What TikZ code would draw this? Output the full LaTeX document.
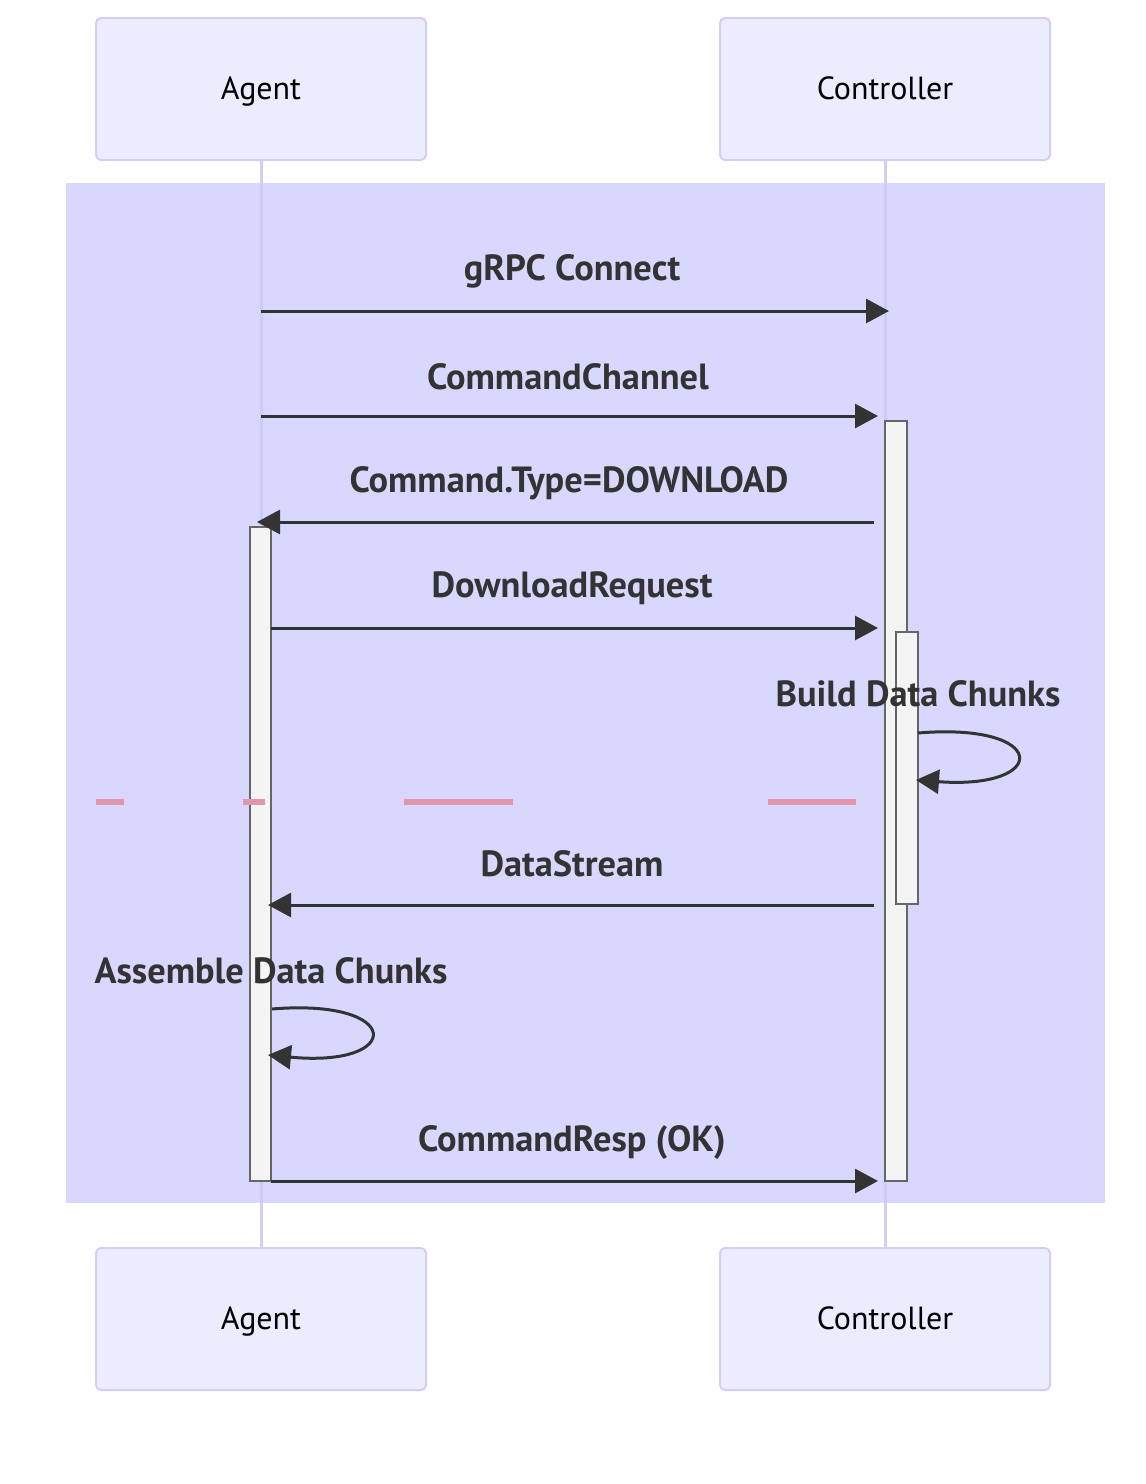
\documentclass[tikz,border=0pt]{standalone}
\usepackage{fontspec}
\setmainfont{PT Sans}
\usetikzlibrary{arrows.meta}

\definecolor{actorfill}{RGB}{236,236,255}
\definecolor{actorline}{RGB}{215,205,242}
\definecolor{loopfill}{RGB}{200,200,255}
\definecolor{msgcol}{RGB}{51,51,51}
\definecolor{actfill}{RGB}{244,244,244}
\definecolor{actline}{RGB}{102,102,102}
\definecolor{sepcol}{RGB}{226,150,172}

\begin{document}
\begin{tikzpicture}[
    x=0.5pt, y=-0.5pt,
    actor/.style={draw=actorline, fill=actorfill, line width=1pt, rounded corners=2.5pt,
      minimum width=165pt, minimum height=71pt, text=black,
      text height=11.5pt, text depth=1.5pt,
      font=\fontsize{16}{19}\selectfont},
    life/.style={actorline, line width=1.5pt},
    act/.style={draw=actline, fill=actfill, line width=1pt},
    msg/.style={msgcol, line width=1.5pt, -{Triangle[length=11.5pt,width=12pt]}},
    lab/.style={font=\bfseries\fontsize{18.2}{21}\selectfont, text=msgcol},
    sep/.style={sepcol, line width=2.8pt},
  ]
  \useasboundingbox (0,0) rectangle (1146,1484);

  \node[actor] (agentT) at (261,89) {Agent};
  \node[actor] (ctrlT) at (885,89) {Controller};
  \node[actor] (agentB) at (261,1319) {Agent};
  \node[actor] (ctrlB) at (885,1319) {Controller};

  \draw[life] (agentT) -- (agentB);
  \draw[life] (ctrlT) -- (ctrlB);

  \fill[loopfill, fill opacity=0.7] (66,183) rectangle (1105,1203);

  % activations
  \draw[act] (250,527) rectangle (271,1181);
  \draw[act] (885,421) rectangle (907,1181);
  \draw[act] (896,632) rectangle (918,904);

  \foreach \i/\xs/\xe/\y/\ly/\lx/\txt in {
      1/261/889/311/271/572/gRPC Connect,
      2/261/878/416/377/568/CommandChannel,
      3/874/257/522/483/569/Command.Type=DOWNLOAD,
      4/271/878/628/588/572/DownloadRequest,
      7/874/268/905/864/572/DataStream,
      9/271/878/1181/1142/572/CommandResp (OK)} {
      \coordinate (s\i) at (\xs,\y);
      \coordinate (e\i) at (\xe,\y);
      \node[lab] (l\i) at (\lx,\ly) {\txt};
      \draw[msg] (s\i) -- (e\i);
    }

  % self calls
  \coordinate (s5) at (918,733);
  \coordinate (e5) at (916,780);
  \node[lab] (l5) at (918,694) {Build Data Chunks};
  \draw[msg] (s5) .. controls (1050,722) and (1050,790) .. (e5);

  \coordinate (s8) at (272,1009);
  \coordinate (e8) at (268,1055);
  \node[lab] (l8) at (271,971) {Assemble Data Chunks};
  \draw[msg] (s8) .. controls (404,998) and (404,1068) .. (e8);

  \foreach \a/\b in {96/124, 243/265, 404/513, 768/856} {
      \draw[sep] (\a,802) -- (\b,802);
    }

\end{tikzpicture}
\end{document}
